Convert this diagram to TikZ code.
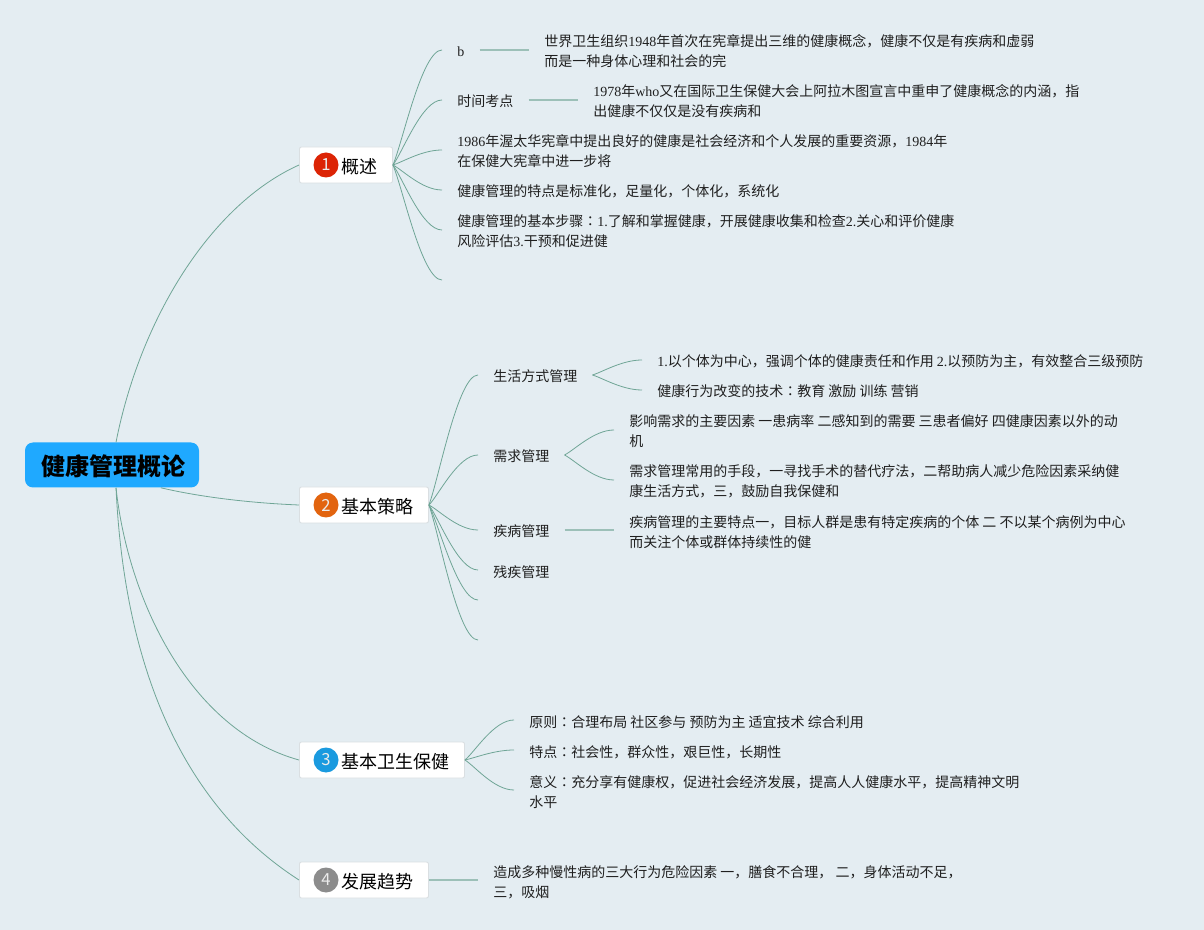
\documentclass[tikz,border=0pt]{standalone}
\usepackage{fontspec}
\setmainfont{Noto Sans CJK SC}
\newfontfamily\enfont{Liberation Serif}
\newfontfamily\tcfont{Noto Sans CJK TC}
\newcommand{\en}[1]{{\enfont #1}}
\newcommand{\mh}{{\tcfont ：}}
\newcommand{\topr}{\rule{0pt}{15pt}}
\usetikzlibrary{calc}
\definecolor{bgcol}{HTML}{E4EDF2}
\definecolor{linecol}{HTML}{6FA596}
\definecolor{thickcol}{HTML}{9CC0B8}
\definecolor{rootcol}{HTML}{1FA9FF}
\definecolor{boxcol}{HTML}{DADFE2}
\definecolor{dotacol}{HTML}{DC2405}
\definecolor{dotbcol}{HTML}{E2640F}
\definecolor{dotccol}{HTML}{1A9ADF}
\definecolor{dotdcol}{HTML}{8C8C8C}
\tikzset{
  rootnode/.style={fill=rootcol, rounded corners=6pt, minimum width=130.5pt, minimum height=33.75pt, inner sep=0pt, text height=17pt, text depth=1.1pt, font=\fontsize{18}{20}\selectfont\bfseries},
  topic/.style={draw=boxcol, fill=white, line width=0.7pt, rounded corners=1.5pt, anchor=west, minimum height=27pt, inner xsep=11.25pt, inner ysep=0pt, text height=14.2pt, text depth=1pt, font=\fontsize{13.5}{16}\selectfont},
  numdot/.style={circle, minimum size=18.75pt, inner sep=0pt, text=white!92!black, font=\fontsize{12.5}{13}\selectfont},
  item/.style={anchor=west, align=left, inner xsep=11.25pt, inner ysep=0pt, text=black!88, font=\fontsize{10.5}{15}\selectfont, execute at begin node={\topr}, execute at end node={\strut}},
  thinlink/.style={draw=linecol, line width=0.6pt},
  thicklink/.style={draw=thickcol, line width=1.1pt}
}
\newcommand{\branch}[2]{\draw[thinlink] (#1) .. controls ($(#1)!.2!(#2)$) and ($(#2)+(-20,0)$) .. (#2);}
\begin{document}
\begin{tikzpicture}[x=0.75pt,y=-0.75pt]
  % Hintergrund
  \fill[bgcol] (0,0) rectangle (1204,930);

  % Wurzel und Hauptthemen
  \node[rootnode] (root) at (112,465) {\hspace*{2.2pt}健康管理概论};
  \node[topic] (gaishu) at (299,165) {\hspace*{20.25pt}概述};
  \node[topic] (celue) at (299,505) {\hspace*{20.25pt}基本策略};
  \node[topic] (baojian) at (299,760) {\hspace*{20.25pt}基本卫生保健};
  \node[topic] (qushi) at (299,880) {\hspace*{20.25pt}发展趋势};
  \node[numdot, fill=dotacol] (dota) at (326,165) {1};
  \node[numdot, fill=dotbcol] (dotb) at (326,505) {2};
  \node[numdot, fill=dotccol] (dotc) at (326,760) {3};
  \node[numdot, fill=dotdcol] (dotd) at (326,880) {4};

  % Zweig 1
  \node[item] (b) at (442,50) {\en{b}};
  \node[item] (shijian) at (442,100) {时间考点};
  \node[item] (wotai) at (442,150) {\topr\en{1986}年渥太华宪章中提出良好的健康是社会经济和个人发展的重要资源，\en{1984}年\\在保健大宪章中进一步将\strut};
  \node[item] (tedian) at (442,190) {健康管理的特点是标准化，足量化，个体化，系统化};
  \node[item] (buzhou) at (442,230) {\topr 健康管理的基本步骤\mh\en{1.}了解和掌握健康，开展健康收集和检查\en{2.}关心和评价健康\\风险评估\en{3.}干预和促进健\strut};
  \node[item] (kongyi) at (442,280) {};
  \node[item] (who) at (529,50) {\topr 世界卫生组织\en{1948}年首次在宪章提出三维的健康概念，健康不仅是有疾病和虚弱\\而是一种身体心理和社会的完\strut};
  \node[item] (alma) at (578,100) {\topr\en{1978}年\en{who}又在国际卫生保健大会上阿拉木图宣言中重申了健康概念的内涵，指\\出健康不仅仅是没有疾病和\strut};

  % Zweig 2
  \node[item] (shenghuo) at (478,375) {生活方式管理};
  \node[item] (xuqiu) at (478,455) {需求管理};
  \node[item] (jibing) at (478,530) {疾病管理};
  \node[item] (canji) at (478,570) {残疾管理};
  \node[item] (kongyia) at (478,600) {};
  \node[item] (kongyib) at (478,640) {};
  \node[item] (geti) at (642,360) {\en{1.}以个体为中心，强调个体的健康责任和作用 \en{2.}以预防为主，有效整合三级预防};
  \node[item] (jishu) at (642,390) {健康行为改变的技术\mh 教育 激励 训练 营销};
  \node[item] (yinsu) at (614,430) {\topr 影响需求的主要因素 一患病率 二感知到的需要 三患者偏好 四健康因素以外的动\\机\strut};
  \node[item] (shouduan) at (614,480) {\topr 需求管理常用的手段，一寻找手术的替代疗法，二帮助病人减少危险因素采纳健\\康生活方式，三，鼓励自我保健和\strut};
  \node[item] (jbtedian) at (614,530) {\topr 疾病管理的主要特点一，目标人群是患有特定疾病的个体 二 不以某个病例为中心\\而关注个体或群体持续性的健\strut};

  % Zweig 3 und 4
  \node[item] (yuanze) at (514,720) {原则\mh 合理布局 社区参与 预防为主 适宜技术 综合利用};
  \node[item] (bjtedian) at (514,750) {特点\mh 社会性，群众性，艰巨性，长期性};
  \node[item] (yiyi) at (514,790) {\topr 意义\mh 充分享有健康权，促进社会经济发展，提高人人健康水平，提高精神文明\\水平\strut};
  \node[item] (weixian) at (478,880) {\topr 造成多种慢性病的三大行为危险因素 一，膳食不合理， 二，身体活动不足，\\三，吸烟\strut};

  % Verbindungen
  \draw[thinlink] (root.80) .. controls (140,320) and (210,205) .. (gaishu.west);
  \draw[thinlink] (root.-25) .. controls (200,497) and (250,503) .. (celue.west);
  \draw[thinlink] (root.-80) .. controls (128,600) and (190,730) .. (baojian.west);
  \draw[thinlink] (root.-80) .. controls (125,680) and (190,810) .. (qushi.west);
  \foreach \k in {b,shijian,wotai,tedian,buzhou,kongyi} {
    \branch{gaishu.east}{\k.west}
  }
  \foreach \k in {shenghuo,xuqiu,jibing,canji,kongyia,kongyib} {
    \branch{celue.east}{\k.west}
  }
  \foreach \k in {geti,jishu} {
    \branch{shenghuo.east}{\k.west}
  }
  \foreach \k in {yinsu,shouduan} {
    \branch{xuqiu.east}{\k.west}
  }
  \foreach \k in {yuanze,bjtedian,yiyi} {
    \branch{baojian.east}{\k.west}
  }
  \draw[thicklink] (b.east) -- (who.west);
  \draw[thicklink] (shijian.east) -- (alma.west);
  \draw[thicklink] (jibing.east) -- (jbtedian.west);
  \draw[thicklink] (qushi.east) -- (weixian.west);
\end{tikzpicture}
\end{document}
